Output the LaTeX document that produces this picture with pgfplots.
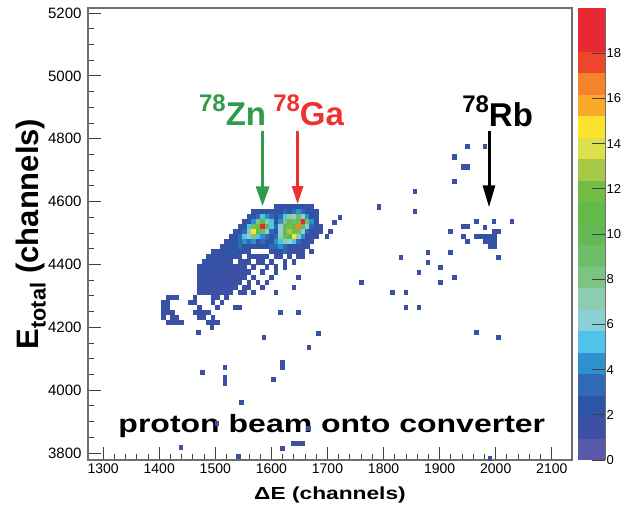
\documentclass[border=0pt]{standalone}
\usepackage{pgfplots}
\pgfplotsset{compat=1.18}
\usepackage{pgfplotstable}
\usepackage{graphicx}
\usepackage{fontspec}
\setmainfont{Liberation Sans}
\usetikzlibrary{arrows.meta}
\definecolor{zngreen}{RGB}{48,155,75}
\definecolor{gared}{RGB}{237,50,50}
\definecolor{framegray}{RGB}{110,110,110}
\pgfdeclareplotmark{bin}{\pgfpathrectangle{\pgfqpoint{-2.3pt}{-2.55pt}}{\pgfqpoint{4.6pt}{5.1pt}}\pgfusepathqfill}
\pgfplotsset{/pgf/number format/assume math mode=true,/pgf/number format/1000 sep={}}

\pgfplotstableread[row sep=\\]{
x y c\\
1608 4584 1\\1616 4584 2\\1624 4584 1\\1632 4584 2\\1640 4584 1\\1648 4584 2\\1656 4584 2\\1664 4584 1\\1672 4584 1\\
1568 4568 1\\1576 4568 2\\1584 4568 2\\1592 4568 2\\1600 4568 1\\1608 4568 2\\1616 4568 2\\1624 4568 3\\1632 4568 2\\1640 4568 3\\1648 4568 4\\1656 4568 3\\1664 4568 2\\1672 4568 2\\1680 4568 1\\
1560 4552 1\\1568 4552 2\\1576 4552 3\\1584 4552 5\\1592 4552 4\\1600 4552 3\\1608 4552 2\\1616 4552 3\\1624 4552 5\\1632 4552 7\\1640 4552 6\\1648 4552 9\\1656 4552 6\\1664 4552 4\\1672 4552 2\\1680 4552 1\\
1552 4536 1\\1560 4536 2\\1568 4536 4\\1576 4536 8\\1584 4536 11\\1592 4536 7\\1600 4536 5\\1608 4536 2\\1616 4536 4\\1624 4536 8\\1632 4536 10\\1640 4536 9\\1648 4536 12\\1656 4536 19\\1664 4536 9\\1672 4536 4\\1680 4536 2\\
1544 4520 1\\1552 4520 2\\1560 4520 5\\1568 4520 9\\1576 4520 12\\1584 4520 19\\1592 4520 10\\1600 4520 5\\1608 4520 3\\1616 4520 6\\1624 4520 10\\1632 4520 12\\1640 4520 11\\1648 4520 17\\1656 4520 10\\1664 4520 6\\1672 4520 3\\1680 4520 2\\1688 4520 1\\
1536 4504 1\\1544 4504 2\\1552 4504 3\\1560 4504 7\\1568 4504 15\\1576 4504 11\\1584 4504 9\\1592 4504 6\\1600 4504 3\\1608 4504 2\\1616 4504 6\\1624 4504 11\\1632 4504 13\\1640 4504 12\\1648 4504 9\\1656 4504 6\\1664 4504 3\\1672 4504 2\\1680 4504 1\\1688 4504 1\\
1528 4488 1\\1536 4488 2\\1544 4488 3\\1552 4488 5\\1560 4488 6\\1568 4488 8\\1576 4488 5\\1584 4488 4\\1592 4488 3\\1600 4488 2\\1608 4488 3\\1616 4488 7\\1624 4488 9\\1632 4488 11\\1640 4488 15\\1648 4488 7\\1656 4488 4\\1664 4488 2\\1672 4488 1\\1680 4488 1\\
1520 4472 1\\1528 4472 2\\1536 4472 2\\1544 4472 3\\1552 4472 4\\1560 4472 3\\1568 4472 4\\1576 4472 2\\1584 4472 3\\1592 4472 2\\1600 4472 2\\1608 4472 4\\1616 4472 5\\1624 4472 7\\1632 4472 6\\1640 4472 5\\1648 4472 3\\1656 4472 2\\1664 4472 1\\1672 4472 1\\
1512 4456 1\\1520 4456 2\\1528 4456 2\\1536 4456 2\\1544 4456 3\\1552 4456 2\\1560 4456 2\\1568 4456 1\\1576 4456 2\\1584 4456 2\\1592 4456 2\\1600 4456 3\\1608 4456 3\\1616 4456 4\\1624 4456 3\\1632 4456 2\\1640 4456 2\\1648 4456 1\\1656 4456 1\\1664 4456 1\\
1496 4440 1\\1504 4440 1\\1512 4440 2\\1520 4440 2\\1528 4440 1\\1536 4440 2\\1544 4440 2\\1552 4440 1\\1560 4440 1\\1600 4440 1\\1608 4440 2\\1616 4440 2\\1624 4440 3\\1632 4440 2\\1640 4440 1\\1648 4440 1\\1656 4440 1\\1672 4440 1\\
1488 4424 1\\1496 4424 2\\1504 4424 1\\1512 4424 2\\1520 4424 1\\1528 4424 2\\1536 4424 1\\1544 4424 1\\1560 4424 1\\1568 4424 2\\1576 4424 1\\1584 4424 1\\1592 4424 2\\1608 4424 1\\1616 4424 1\\1632 4424 1\\1648 4424 1\\1656 4424 1\\
1480 4408 1\\1488 4408 2\\1496 4408 1\\1504 4408 2\\1512 4408 1\\1520 4408 1\\1528 4408 1\\1544 4408 1\\1552 4408 1\\1560 4408 1\\1576 4408 1\\1584 4408 1\\1600 4408 1\\1624 4408 1\\1640 4408 1\\
1472 4392 1\\1480 4392 1\\1488 4392 2\\1496 4392 1\\1504 4392 1\\1512 4392 2\\1520 4392 1\\1528 4392 1\\1536 4392 1\\1544 4392 1\\1552 4392 1\\1568 4392 1\\1592 4392 1\\1608 4392 1\\1624 4392 1\\
1472 4376 1\\1480 4376 2\\1488 4376 1\\1496 4376 1\\1504 4376 1\\1512 4376 1\\1520 4376 1\\1528 4376 1\\1536 4376 1\\1544 4376 1\\1552 4376 1\\1560 4376 1\\1584 4376 1\\1608 4376 1\\
1472 4360 1\\1480 4360 1\\1488 4360 2\\1496 4360 1\\1504 4360 1\\1512 4360 1\\1520 4360 1\\1528 4360 1\\1536 4360 1\\1544 4360 1\\1552 4360 1\\1568 4360 1\\1600 4360 1\\1648 4360 1\\
1472 4344 1\\1480 4344 1\\1488 4344 1\\1496 4344 1\\1504 4344 1\\1512 4344 1\\1520 4344 1\\1528 4344 1\\1536 4344 1\\1544 4344 1\\1560 4344 1\\1576 4344 1\\1592 4344 1\\
1472 4328 1\\1480 4328 1\\1488 4328 1\\1496 4328 1\\1504 4328 1\\1512 4328 1\\1520 4328 1\\1528 4328 1\\1536 4328 1\\1552 4328 1\\1560 4328 1\\1584 4328 1\\1640 4328 1\\
1472 4312 1\\1480 4312 1\\1488 4312 1\\1496 4312 1\\1504 4312 1\\1512 4312 1\\1520 4312 1\\1528 4312 1\\1544 4312 1\\1552 4312 1\\1568 4312 1\\1608 4312 1\\
1416 4296 1\\1424 4296 1\\1432 4296 1\\1464 4296 1\\1496 4296 1\\1504 4296 1\\1520 4296 1\\
1408 4280 1\\1416 4280 1\\1456 4280 1\\1464 4280 1\\1496 4280 1\\1512 4280 1\\
1408 4264 1\\1416 4264 1\\1472 4264 1\\1504 4264 1\\1536 4264 1\\1544 4264 1\\
1408 4248 1\\1416 4248 1\\1424 4248 1\\1464 4248 1\\1472 4248 1\\1480 4248 1\\1488 4248 1\\1616 4248 1\\1648 4248 1\\
1408 4232 1\\1424 4232 1\\1432 4232 1\\1472 4232 1\\1480 4232 1\\1496 4232 1\\
1416 4216 1\\1424 4216 1\\1432 4216 1\\1440 4216 1\\1488 4216 1\\1496 4216 1\\1504 4216 1\\
}\cluster

\pgfplotstableread[row sep=\\]{
x y c\\
1950 4774 1\\1981 4774 1\\1926 4742 1\\1942 4710 1\\1950 4710 1\\1926 4663 1\\1856 4631 1\\1792 4583 1\\1856 4568 1\\
1722 4550 1\\1713 4534 1\\1705 4504 1\\1699 4488 1\\
1966 4536 1\\1997 4536 1\\2029 4536 1\\1942 4520 1\\1950 4520 1\\1981 4518 1\\1919 4504 1\\1997 4504 1\\2005 4504 1\\
1942 4488 1\\1966 4488 1\\1974 4488 2\\1982 4488 2\\1990 4488 2\\1998 4488 1\\1950 4472 1\\1982 4472 1\\1990 4472 2\\1998 4472 2\\
1990 4456 1\\1998 4456 1\\2005 4422 1\\1831 4422 1\\1879 4438 1\\1919 4438 1\\1879 4406 1\\1902 4390 1\\1863 4374 1\\1926 4358 1\\
1902 4342 1\\1761 4342 1\\1816 4311 1\\1840 4311 1\\1840 4263 1\\1863 4263 1\\1966 4184 1\\2005 4168 1\\
1684 4181 1\\1470 4183 1\\1494 4200 1\\1587 4168 1\\1667 4135 1\\1477 4055 1\\1517 4071 1\\1517 4039 1\\1517 4023 1\\
1620 4087 1\\1620 4071 1\\1604 4035 1\\1547 3960 1\\1439 3817 1\\1620 3815 1\\1639 3831 1\\1647 3831 1\\1655 3831 1\\
1541 3788 1\\1503 3894 1\\1666 3878 1\\1990 3783 1\\
}\sparse

\begin{document}
\begin{tikzpicture}
\path[use as bounding box] (-88pt,-51pt) rectangle (542pt,460pt);
\begin{axis}[
  at={(0pt,0pt)}, anchor=south west,
  scale only axis, width=484pt, height=452pt,
  xmin=1273, xmax=2136, ymin=3778, ymax=5216,
  xtick={1300,1400,...,2100}, ytick={3800,4000,...,5200},
  minor x tick num=4, minor y tick num=3,
  tick align=inside, tick pos=left,
  major tick length=13pt, minor tick length=6pt,
  axis line style={draw=framegray, line width=1.3pt},
  every tick/.style={black!75, line width=0.9pt},
  xticklabel style={font=\fontsize{14}{14}\selectfont},
  yticklabel style={font=\fontsize{15}{15}\selectfont, xshift=-3pt},
  xlabel={\scalebox{1.3}[1]{\fontsize{17.5}{20}\selectfont\bfseries ΔE (channels)}},
  xlabel style={at={(axis description cs:0.5,-0.077)}, anchor=center},
  ylabel={\fontsize{31}{33}\selectfont\bfseries E\textsubscript{total} (channels)},
  ylabel style={at={(axis description cs:-0.118,0.5)}, anchor=center},
  colormap={root}{
    rgb255=(90,88,168) rgb255=(60,80,165) rgb255=(45,85,165) rgb255=(48,105,180) rgb255=(45,145,205)
    rgb255=(80,195,235) rgb255=(140,208,215) rgb255=(140,205,175) rgb255=(125,195,130) rgb255=(110,190,105)
    rgb255=(100,185,85) rgb255=(100,185,75) rgb255=(115,188,72) rgb255=(165,200,70) rgb255=(220,225,75)
    rgb255=(250,228,45) rgb255=(250,170,40) rgb255=(245,130,45) rgb255=(238,70,45) rgb255=(232,40,50)
    rgb255=(232,40,50)},
  colormap access=piecewise constant,
  point meta min=0, point meta max=20,
  colorbar,
  colorbar shift/.style={xshift=6pt},
  colorbar style={
    scale only axis, width=27pt, height=452pt,
    at={(parent axis.north east)}, anchor=north west,
    ytick={0,2,...,18},
    tick align=inside, ytick pos=right, yticklabel pos=right,
    major tick length=13pt,
    every tick/.style={black!75, line width=0.9pt},
    yticklabel style={font=\fontsize{13}{13}\selectfont, xshift=-2pt},
    separate axis lines, axis x line=none, axis y line*=right,
    axis line style={draw=framegray, line width=1pt},
  },
]
\addplot[scatter, only marks, mark=bin, scatter src=explicit,
  scatter/use mapped color={draw=none, fill=mapped color}]
  table[x=x, y=y, meta=c]{\cluster};
\addplot[scatter, only marks, mark=bin, scatter src=explicit,
  scatter/use mapped color={draw=none, fill=mapped color}]
  table[x=x, y=y, meta=c]{\sparse};

\draw[zngreen, line width=3.3pt, -{Triangle[width=13pt,length=20pt]}] (axis cs:1584.3,4824) -- (axis cs:1584.3,4585);
\draw[gared, line width=2.7pt, -{Triangle[width=11pt,length=18pt]}] (axis cs:1646.7,4824) -- (axis cs:1646.7,4592);
\draw[black, line width=3pt, -{Triangle[width=12pt,length=22pt]}] (axis cs:1988,4824) -- (axis cs:1988,4582);

\node[anchor=base east, text=zngreen, inner sep=0pt, font=\fontsize{33}{33}\selectfont\bfseries] at (axis cs:1591,4843) {\raisebox{13.5pt}{\fontsize{24}{24}\selectfont 78}Zn};
\node[anchor=base west, text=gared, inner sep=0pt, font=\fontsize{33}{33}\selectfont\bfseries] at (axis cs:1603,4843) {\raisebox{13.5pt}{\fontsize{24}{24}\selectfont 78}Ga};
\node[anchor=base west, text=black, inner sep=0pt, font=\fontsize{33}{33}\selectfont\bfseries] at (axis cs:1940,4840) {\raisebox{13.5pt}{\fontsize{24}{24}\selectfont 78}Rb};
\node[anchor=base west, text=black, inner sep=0pt] at (axis cs:1327,3864) {\scalebox{1.28}[1]{\fontsize{25}{25}\selectfont\bfseries proton beam onto converter}};
\end{axis}
\end{tikzpicture}
\end{document}
